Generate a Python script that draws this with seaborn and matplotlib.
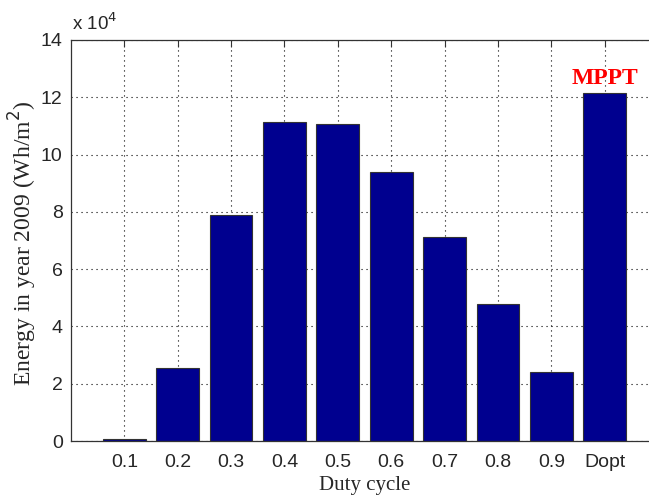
import pandas as pd
import seaborn as sns
import matplotlib.pyplot as plt
from matplotlib.ticker import FuncFormatter

duty = ["0.1", "0.2", "0.3", "0.4", "0.5", "0.6", "0.7", "0.8", "0.9", "Dopt"]
energy = [600, 25500, 79000, 111300, 110600, 93900, 71200, 47800, 24000, 121400]

df = pd.DataFrame({"duty": duty, "energy": energy})

sns.set_style("white")
plt.rcParams["font.family"] = ["Liberation Sans", "DejaVu Sans"]

fig = plt.figure(figsize=(6.49, 4.98), dpi=100)
ax = fig.add_axes([71 / 649, 1 - 441 / 498, 587 / 649, 401 / 498])

sns.barplot(data=df, x="duty", y="energy", order=duty, color="#00008F",
            saturation=1, width=0.8, edgecolor="#333333", linewidth=0.8, ax=ax)

ax.set_xlim(-1, 10)
ax.set_ylim(0, 140000)
ax.set_yticks(range(0, 140001, 20000))
ax.yaxis.set_major_formatter(FuncFormatter(lambda v, p: f"{v / 1e4:g}"))
ax.set_axisbelow(True)
ax.grid(True, linestyle=(0, (1, 3.5)), color="black", linewidth=0.8)
ax.tick_params(axis="both", direction="in", length=5, labelsize=14,
               top=True, right=True, color="#333333")
ax.tick_params(axis="x", pad=9)
ax.tick_params(axis="y", pad=6)
for s in ax.spines.values():
    s.set_color("#333333")
    s.set_linewidth(0.9)

ax.set_xlabel("Duty cycle", family="Liberation Serif", fontsize=15, labelpad=4)
ax.set_ylabel("Energy in year 2009 (Wh/m$^2$)", family="Liberation Serif",
              fontsize=17)
ax.yaxis.set_label_coords(-0.055, 0.494)

fig.text(72 / 649, 1 - 30 / 498, "x 10$^4$", fontsize=13.5, va="baseline")

ax.annotate("MPPT", xy=(9, energy[-1]), xytext=(0, 7), textcoords="offset points",
            ha="center", va="baseline", color="red", fontsize=17,
            fontweight="bold", family="Liberation Serif")

fig.savefig("out.png", dpi=100)
